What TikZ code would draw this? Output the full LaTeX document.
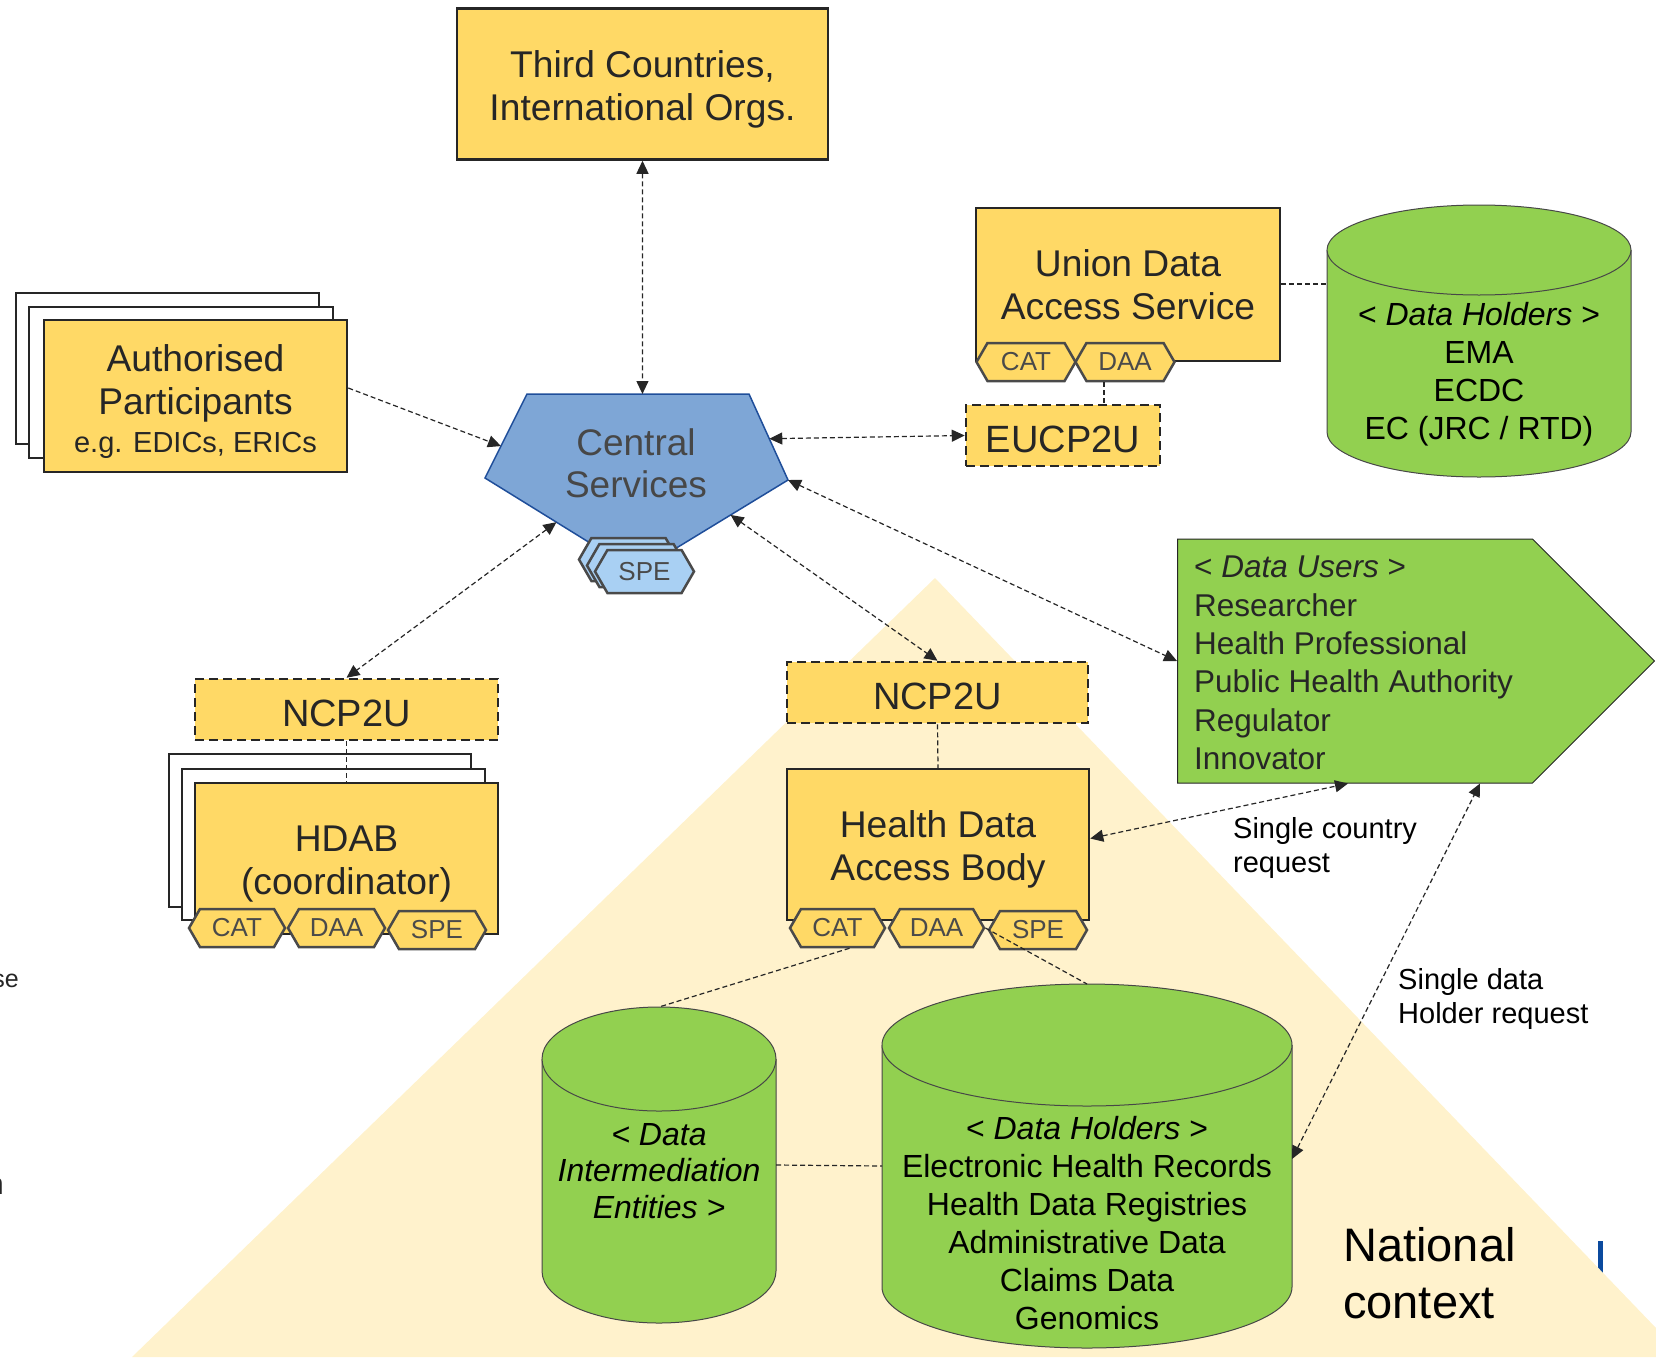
\documentclass[tikz,border=0pt]{standalone}
\usepackage{fontspec}
\setmainfont{Liberation Sans}
\usetikzlibrary{arrows.meta,shapes.symbols,calc}

\definecolor{boxyellow}{HTML}{FFD966}
\definecolor{dbgreen}{HTML}{92D050}
\definecolor{natyellow}{HTML}{FFF2CC}
\definecolor{csblue}{HTML}{7EA6D6}
\definecolor{csborder}{HTML}{1F4E9A}
\definecolor{speblue}{HTML}{A9D0F3}
\definecolor{ink}{HTML}{262626}
\definecolor{hexink}{HTML}{4A4A4A}
\definecolor{barblue}{HTML}{0B4A9E}

% invisible strut that pushes box text a little down
\newcommand{\boxstrut}{\rule{0pt}{1em}}

\tikzset{
  box/.style={rectangle, draw=ink, line width=2.5pt, fill=boxyellow, text=ink,
    align=center, inner sep=0pt, font=\fontsize{37.2}{43}\selectfont},
  backbox/.style={box, fill=white},
  p2ubox/.style={box, dash pattern=on 9pt off 5pt, font=\fontsize{38}{43}\selectfont,
    execute at begin node=\rule{0pt}{0.9em}},
  tag/.style={signal, signal to=west and east, signal pointer angle=120,
    draw=hexink, line width=2.5pt, fill=boxyellow, text=hexink, inner sep=0pt,
    minimum height=38, font=\fontsize{26}{30}\selectfont},
  link/.style={draw=ink, line width=1.2pt, dash pattern=on 5pt off 3pt,
    >={Triangle[length=13pt,width=12pt]}},
  tie/.style={draw=ink, line width=1.2pt, dash pattern=on 5pt off 3pt},
  dbtext/.style={text=black, align=center, font=\fontsize{32}{38}\selectfont},
  cylline/.style={draw=ink!85, line width=1pt},
  note/.style={anchor=west, align=left, inner sep=0pt, text=black, font=\fontsize{29}{34}\selectfont},
}

\begin{document}
\begin{tikzpicture}[x=1pt, y=-1pt]
\useasboundingbox (0,0) rectangle (1656,1357);

% cut-off leftovers of the slide
\fill[barblue] (1598,1241) rectangle (1603,1275);
\node[anchor=base east, inner sep=0pt, text=ink, font=\fontsize{25}{30}\selectfont] (frag1) at (19,987) {se};
\node[anchor=base east, inner sep=0pt, text=ink, font=\fontsize{30}{36}\selectfont] (frag2) at (4,1194) {n};

% national context
\fill[natyellow] (935,578) -- (132,1357) -- (1656,1357) -- (1656,1328) -- cycle;
\node[anchor=west, align=left, inner sep=0pt, text=black, font=\fontsize{47}{57}\selectfont] (national) at (1343,1273) {National\\context};

% top
\node[box, minimum width=371, minimum height=151] (third) at (642.5,84) {\boxstrut Third Countries,\\International Orgs.};

% authorised participants
\node[backbox, minimum width=303, minimum height=151] (auth3) at (167.5,368.5) {};
\node[backbox, minimum width=304, minimum height=151] (auth2) at (181,382.5) {};
\node[box, minimum width=303, minimum height=152] (auth) at (195.5,396)
  {\boxstrut Authorised\\Participants\\[-5pt]{\fontsize{29}{34}\selectfont e.g. EDICs, ERICs}};

% central services
\coordinate (cs tl) at (527,394);
\coordinate (cs tr) at (749,394);
\coordinate (cs r) at (788,480);
\coordinate (cs b) at (637,572);
\coordinate (cs l) at (485,478);
\filldraw[fill=csblue, draw=csborder, line width=1.5pt] (cs tl) -- (cs tr) -- (cs r) -- (cs b) -- (cs l) -- cycle;
\node[align=center, text=ink!85, font=\fontsize{37}{42}\selectfont] (central) at (636,463) {Central\\Services};
\node[tag, fill=speblue, minimum width=99, minimum height=43] (spe3) at (628.5,559.5) {};
\node[tag, fill=speblue, minimum width=99, minimum height=43] (spe2) at (636.5,565.5) {};
\node[tag, fill=speblue, minimum width=99, minimum height=43] (spe) at (644.5,571.5) {SPE};

% union level
\node[box, minimum width=304, minimum height=153] (union) at (1128,284.5) {Union Data\\Access Service};
\node[tag, minimum width=99] (ucat) at (1026,362) {CAT};
\node[tag, minimum width=99] (udaa) at (1125,362) {DAA};
\node[p2ubox, minimum width=194, minimum height=61] (eucp) at (1063,435.5) {EUCP2U};
\draw[tie] ([xshift=-21pt]udaa.south) -- ([xshift=-21pt]udaa.south |- eucp.north);

% union data holders
\fill[dbgreen] (1327,250) rectangle (1631,432);
\filldraw[fill=dbgreen, cylline] (1327,250) -- (1327,432) arc[start angle=180, end angle=360, x radius=152pt, y radius=45pt] -- (1631,250);
\filldraw[fill=dbgreen, cylline] (1479,250) ellipse [x radius=152pt, y radius=45pt];
\coordinate (ema west) at (1327,284);
\node[dbtext] (ema) at (1479,374) {< \textit{Data Holders} >\\EMA\\ECDC\\EC (JRC / RTD)};
\draw[tie] (union.east |- ema west) -- (ema west);

% data users
\node[signal, signal to=east, signal pointer angle=90, draw=ink, line width=1pt, fill=dbgreen,
  minimum width=477, minimum height=244, anchor=west] (users) at (1177,661) {};
\node[anchor=west, align=left, inner sep=0pt, text=ink, font=\fontsize{31.5}{38.4}\selectfont] (userlist) at (1194,663)
  {< \textit{Data Users} >\\Researcher\\Health Professional\\Public Health Authority\\Regulator\\Innovator};

% coordinator member state
\node[p2ubox, minimum width=303, minimum height=61] (ncpl) at (346.5,709.5) {NCP2U};
\node[backbox, minimum width=302, minimum height=153] (hdab3) at (320,830.5) {};
\node[backbox, minimum width=303, minimum height=151] (hdab2) at (333.5,844.5) {};
\node[box, minimum width=303, minimum height=151] (hdab) at (346.5,858.5) {\boxstrut HDAB\\(coordinator)};
\node[tag, minimum width=96] (hcat) at (237,928) {CAT};
\node[tag, minimum width=97] (hdaa) at (336.5,928) {DAA};
\node[tag, minimum width=98] (hspe) at (437,930) {SPE};
\draw[tie] (ncpl.south) -- (hdab.north);

% national member state
\node[p2ubox, minimum width=301, minimum height=61] (ncpr) at (937.5,692.5) {NCP2U};
\node[box, minimum width=302, minimum height=151] (hdabn) at (938,844.5) {\boxstrut Health Data\\Access Body};
\node[tag, minimum width=95] (ncat) at (837.5,928) {CAT};
\node[tag, minimum width=95] (ndaa) at (936.5,928) {DAA};
\node[tag, minimum width=98] (nspe) at (1038,930) {SPE};
\draw[tie] (ncpr.south) -- (hdabn.north);

% intermediation entities
\fill[dbgreen] (542,1059) rectangle (776,1271);
\filldraw[fill=dbgreen, cylline] (542,1059) -- (542,1271) arc[start angle=180, end angle=360, x radius=117pt, y radius=52pt] -- (776,1059);
\filldraw[fill=dbgreen, cylline] (659,1059) ellipse [x radius=117pt, y radius=52pt];
\coordinate (die top) at (659,1007);
\coordinate (die east) at (776,1165);
\node[dbtext, font=\itshape\fontsize{32}{36.5}\selectfont] (die) at (659,1171) {< Data\\Intermediation\\Entities >};

% national data holders
\fill[dbgreen] (882,1045) rectangle (1292,1287);
\filldraw[fill=dbgreen, cylline] (882,1045) -- (882,1287) arc[start angle=180, end angle=360, x radius=205pt, y radius=61pt] -- (1292,1045);
\filldraw[fill=dbgreen, cylline] (1087,1045) ellipse [x radius=205pt, y radius=61pt];
\coordinate (dh top) at (1087,984);
\coordinate (dh west) at (882,1166);
\coordinate (dh east) at (1292,1159);
\node[dbtext] (dh) at (1087,1223) {< \textit{Data Holders} >\\Electronic Health Records\\Health Data Registries\\Administrative Data\\Claims Data\\Genomics};

\draw[tie] ([xshift=12pt]ncat.south) -- (die top);
\draw[tie] (ndaa.east) -- (dh top);
\draw[tie] (die east) -- (dh west);

% connections
\draw[link, <->] (third.south) -- ($(cs tl)!0.52!(cs tr)$);
\draw[link, ->] ([yshift=8pt]auth.east) -- ($(cs tl)!0.62!(cs l)$);
\draw[link, <->] ($(cs l)!0.47!(cs b)$) -- (ncpl.north);
\draw[link, <->] ($(cs tr)!0.52!(cs r)$) -- (eucp.west);
\draw[link, <->] (cs r) -- (users.west);
\draw[link, <->] ($(cs r)!0.38!(cs b)$) -- (ncpr.north);
\draw[link, <->] ([yshift=6pt]hdabn.east) -- ([xshift=171pt]users.south west);
\draw[link, <->] (dh east) -- ([xshift=303pt]users.south west);

\node[note] (single1) at (1233,848) {Single country\\request};
\node[note] (single2) at (1398,999) {Single data\\Holder request};

\end{tikzpicture}
\end{document}
